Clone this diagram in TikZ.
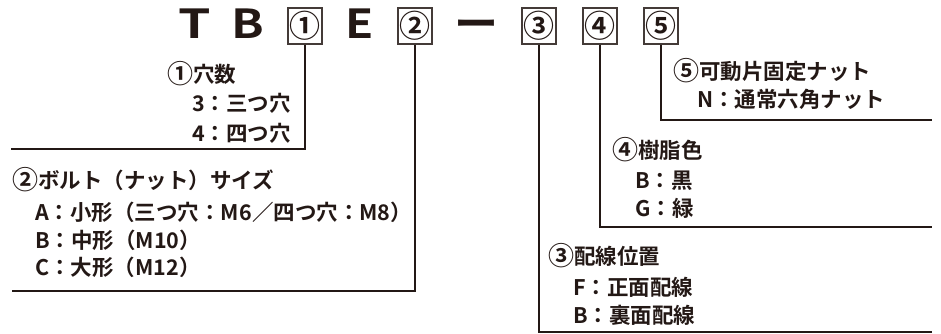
\documentclass[tikz,border=0pt]{standalone}
\usepackage{fontspec}
\newfontfamily\jpfont{Noto Sans CJK JP}[BoldFont={* Bold}]
\definecolor{ink}{HTML}{231815}
\newcommand{\cnum}[1]{{\fontsize{26}{26}\selectfont\raisebox{-1pt}{#1}}}
\tikzset{
	codebox/.style={draw=ink!85, line width=1.1pt, minimum width=34pt, minimum height=36pt, inner sep=0pt,
			text=ink, font=\jpfont\bfseries\fontsize{31}{31}\selectfont},
	codeletter/.style={anchor=base, inner sep=0pt, text=ink, font=\jpfont\bfseries\fontsize{40}{40}\selectfont},
	lead/.style={draw=ink, line width=2pt},
	item/.style={anchor=base west, inner sep=0pt, text=ink, font=\jpfont\bfseries\fontsize{21.5}{21.5}\selectfont}
}

\begin{document}
\begin{tikzpicture}[x=1pt, y=-1pt]
			\useasboundingbox (0,0) rectangle (941,334);

			% model code
			\node[codeletter] (lt) at (194.5,39) {\scalebox{1.3}[1]{T}};
			\node[codeletter] (lb) at (247.5,39) {\scalebox{1.2}[1]{B}};
			\node[codeletter] (le) at (360,39) {\scalebox{1.15}[1]{E}};
			\node[codeletter] (ld) at (476,39) {\scalebox{1.1}[1]{ー}};
			\foreach \n/\x/\d in {1/305/①,2/415/②,3/539/③,4/600/④,5/661/⑤}
				\node[codebox] (b\n) at (\x,26) {\d};

			% leader ends
			\coordinate (e1) at (11,149);
			\coordinate (e2) at (12,291);
			\coordinate (e3) at (932,332);
			\coordinate (e4) at (932,227);
			\coordinate (e5) at (932,120);
			\foreach \n in {1,...,5}
				\draw[lead] (b\n.south) |- (e\n);

			% 1
			\node[item] (t1) at (167,83) {\cnum{①}穴数};
			\node[item] (t1a) at (192,112) {3：三つ穴};
			\node[item] (t1b) at (192,141) {4：四つ穴};
			% 2
			\node[item] (t2) at (12,188) {\cnum{②}ボルト（ナット）サイズ};
			\node[item] (t2a) at (35,220) {A：小形（三つ穴：M6／四つ穴：M8）};
			\node[item] (t2b) at (35,248) {B：中形（M10）};
			\node[item] (t2c) at (35,275) {C：大形（M12）};
			% 3
			\node[item] (t3) at (548,264) {\cnum{③}配線位置};
			\node[item] (t3a) at (573,295) {F：正面配線};
			\node[item] (t3b) at (573,323) {B：裏面配線};
			% 4
			\node[item] (t4) at (612,158) {\cnum{④}樹脂色};
			\node[item] (t4a) at (635,188) {B：黒};
			\node[item] (t4b) at (635,216) {G：緑};
			% 5
			\node[item] (t5) at (673,80) {\cnum{⑤}可動片固定ナット};
			\node[item] (t5a) at (697,108) {N：通常六角ナット};
		\end{tikzpicture}
\end{document}
